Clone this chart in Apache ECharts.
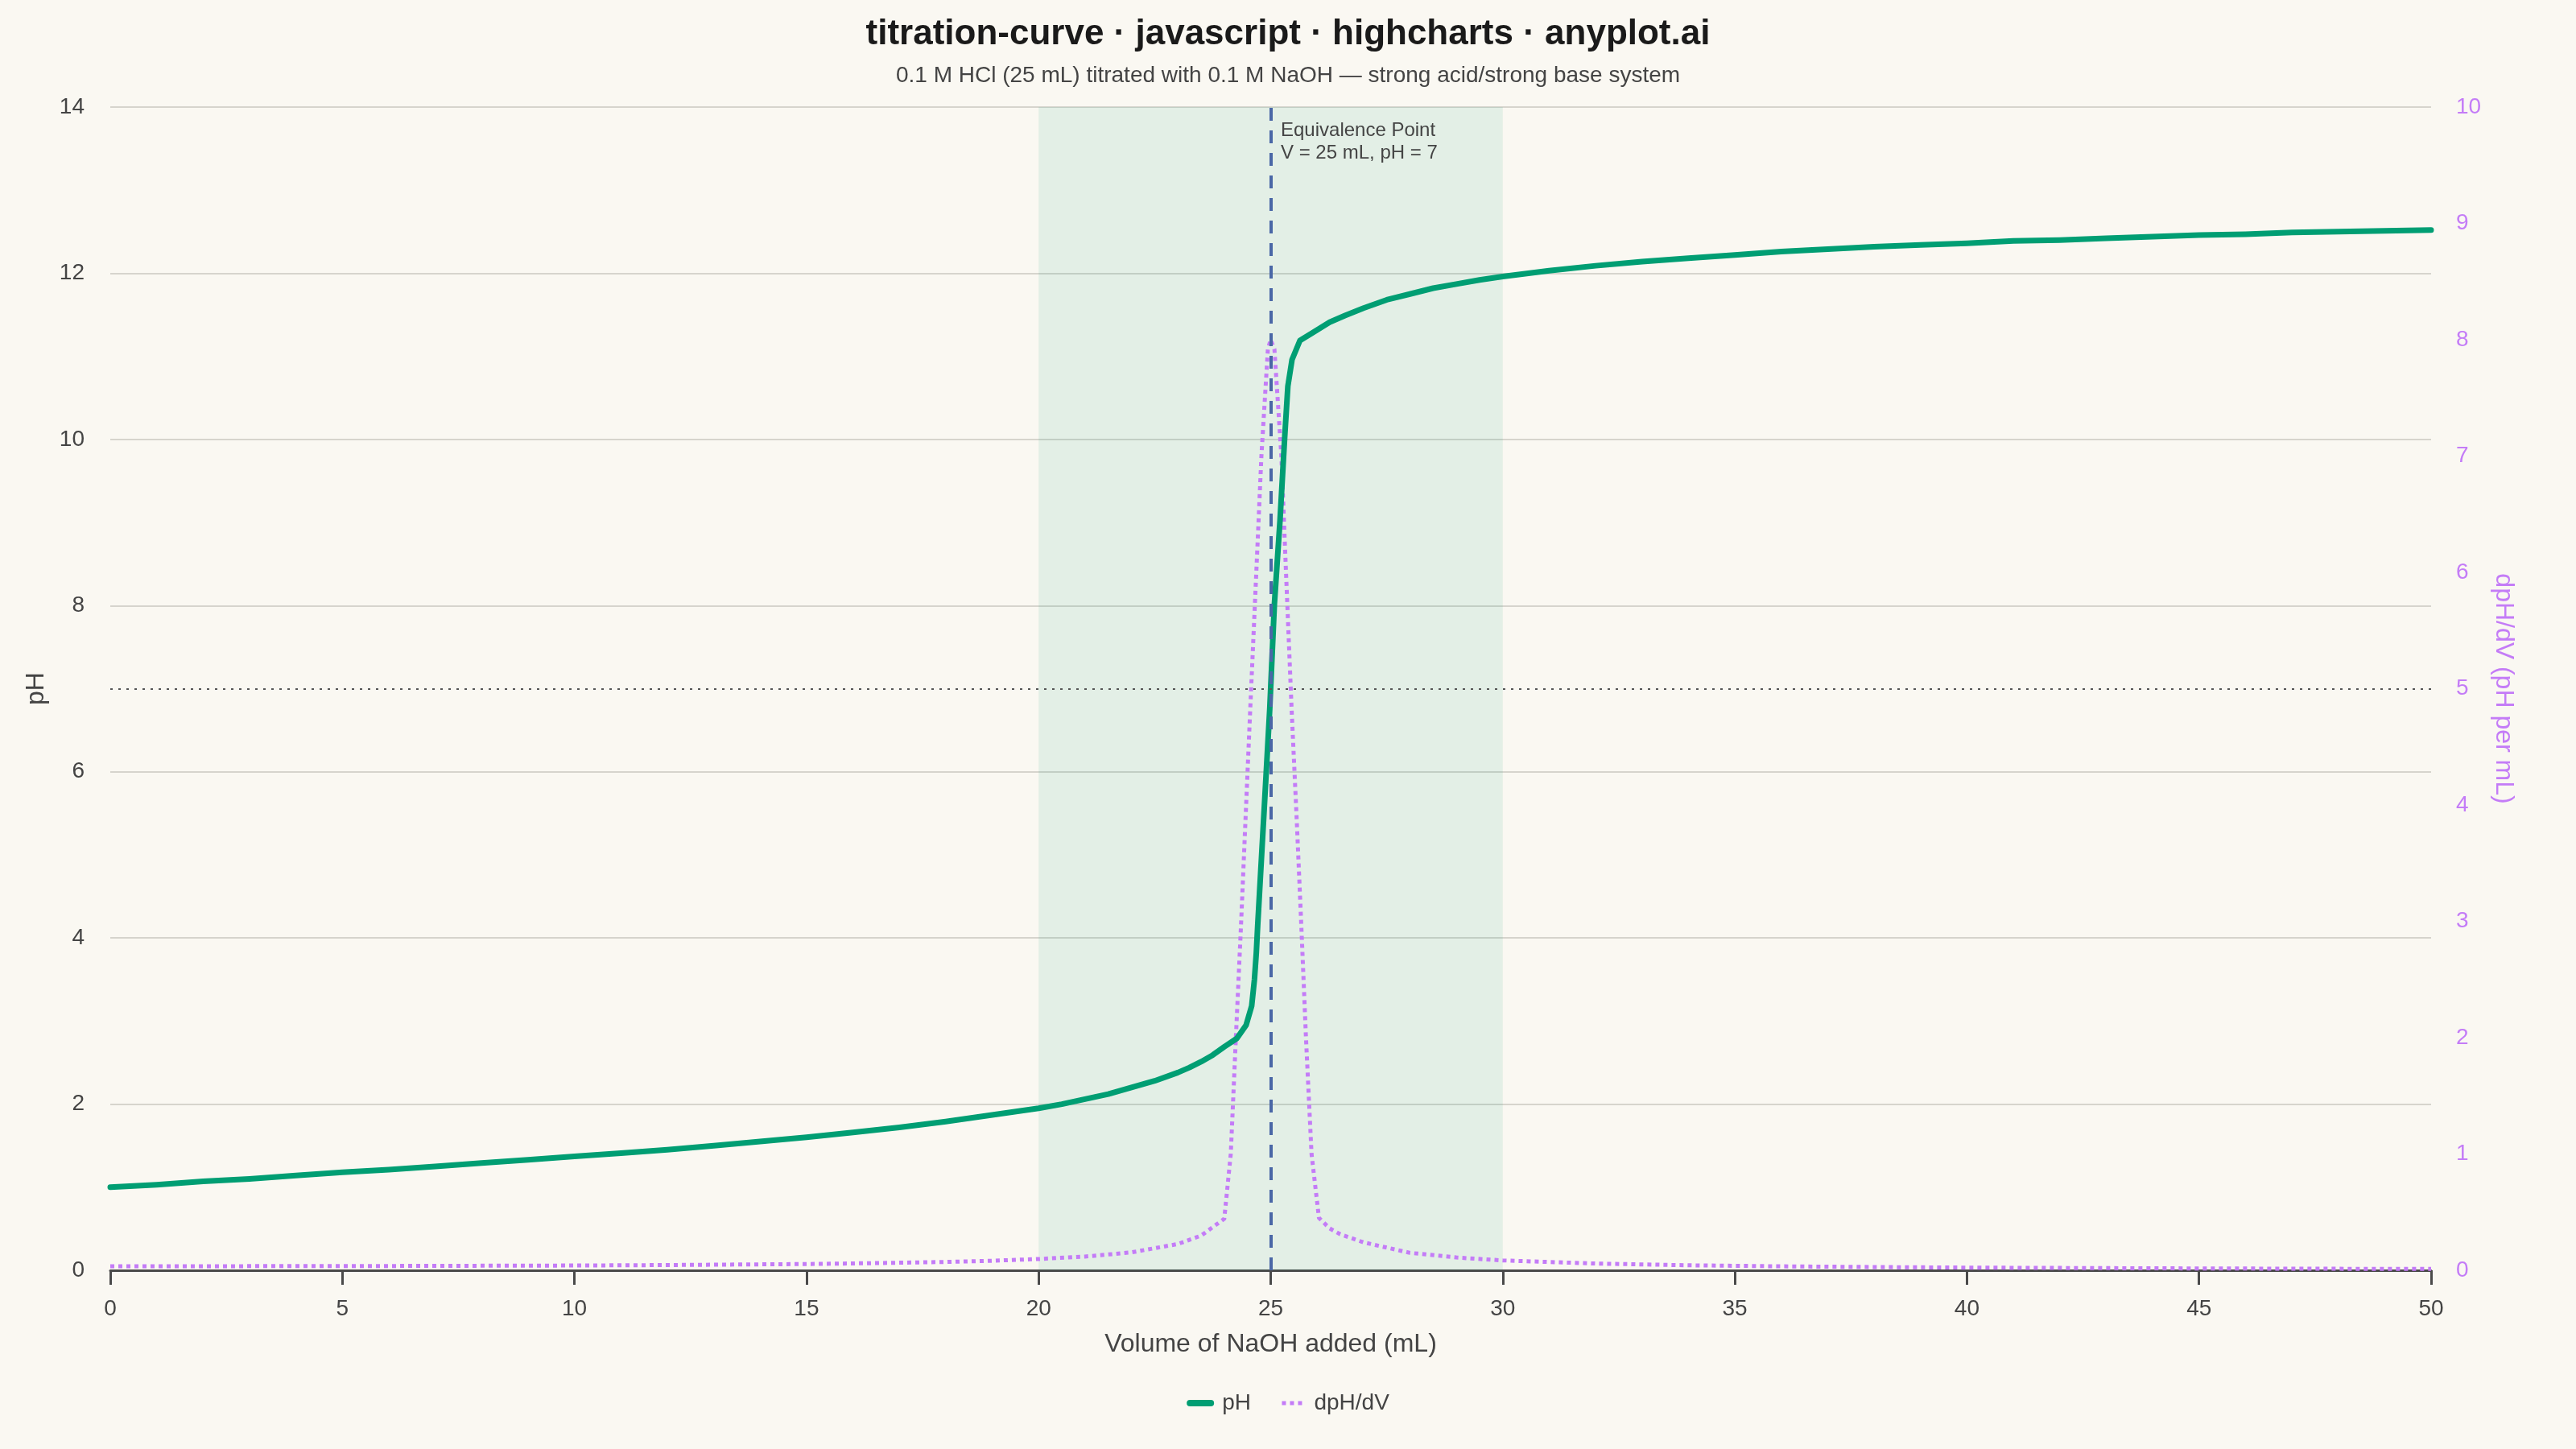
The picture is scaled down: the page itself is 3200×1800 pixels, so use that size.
<!DOCTYPE html>
<html>
<head>
<meta charset="utf-8">
<script src="https://cdn.jsdelivr.net/npm/echarts@6/dist/echarts.min.js"></script>
<style>
	html, body { margin: 0; padding: 0; background: #faf8f2; }
	#chartDiv { width: 3200px; height: 1800px; }
</style>
</head>
<body>
<div id="chartDiv"></div>
<script>
// pH curve
const phVolumes = [0, 1, 2, 3, 4, 5, 6, 7, 8, 9, 10, 11, 12, 13, 14, 15, 16, 17, 18, 19, 20, 20.5, 21, 21.5, 22, 22.5, 23, 23.25, 23.5, 23.75, 24,
	24.27, 24.47, 24.59, 24.65, 24.69, 24.72, 24.85, 24.98, 25.08, 25.2, 25.3, 25.37, 25.46, 25.63, 25.92, 26.27, 26.6,
	27, 27.5, 28, 28.5, 29, 29.5, 30, 31, 32, 33, 34, 35, 36, 37, 38, 39, 40, 41, 42, 43, 44, 45, 46, 47, 48, 49, 50];
const phValues = [1.00, 1.03, 1.07, 1.10, 1.14, 1.18, 1.21, 1.25, 1.29, 1.33, 1.37, 1.41, 1.45, 1.50, 1.55, 1.60, 1.66, 1.72, 1.79, 1.87, 1.95, 2.00, 2.06, 2.12, 2.20, 2.28, 2.38, 2.44, 2.51, 2.59, 2.69,
	2.79, 2.95, 3.18, 3.50, 3.82, 4.15, 5.45, 6.76, 8.02, 9.02, 10.01, 10.64, 10.96, 11.19, 11.29, 11.41, 11.49,
	11.58, 11.68, 11.75, 11.82, 11.87, 11.92, 11.96, 12.03, 12.09, 12.14, 12.18, 12.22, 12.26, 12.29, 12.32, 12.34, 12.36, 12.39, 12.40, 12.42, 12.44, 12.46, 12.47, 12.49, 12.50, 12.51, 12.52];

// first derivative dpH/dV
const dVolumes = [0, 2, 4, 6, 8, 10, 12, 14, 15, 16, 17, 18, 19, 20, 21, 22, 23, 23.5, 24,
	24.14, 24.25, 24.36, 24.46, 24.56, 24.69, 24.8, 24.94, 25, 25.08, 25.23, 25.33, 25.45, 25.56, 25.66, 25.76, 25.88, 26.04,
	26.27, 26.5, 27, 28, 29, 30, 32, 34, 36, 38, 40, 42, 44, 46, 48, 50];
const dValues = [0.035, 0.035, 0.036, 0.037, 0.039, 0.041, 0.045, 0.051, 0.054, 0.059, 0.065, 0.072, 0.082, 0.097, 0.118, 0.154, 0.226, 0.298, 0.443,
	1.0, 2.0, 2.96, 3.9, 4.83, 6.0, 7.0, 7.92, 8.0, 7.92, 7.0, 6.0, 4.83, 3.88, 2.96, 2.0, 1.0, 0.45,
	0.36, 0.31, 0.24, 0.15, 0.11, 0.085, 0.058, 0.043, 0.034, 0.028, 0.023, 0.02, 0.017, 0.015, 0.013, 0.012];

const xTicks = { min: 0, max: 50, interval: 5 };
const phTicks = { min: 0, max: 14, interval: 2 };
const dTicks = { min: 0, max: 10, interval: 1 };

const equivVolume = 25;
const equivPH = 7;
const bandRange = [20, 30];

const fontFam = '"Liberation Sans", Arial, sans-serif';
const green = '#009e73';
const purple = '#c47cf7';

chartInit = () => {
	let chart = echarts.init(document.getElementById('chartDiv'));
	let phData = phVolumes.map((v, i) => [v, phValues[i]]);
	let dData = dVolumes.map((v, i) => [v, dValues[i]]);

	let option = {
		animation: false,
		backgroundColor: '#faf8f2',
		textStyle: { fontFamily: fontFam },
		title: {
			text: 'titration-curve · javascript · highcharts · anyplot.ai',
			subtext: '0.1 M HCl (25 mL) titrated with 0.1 M NaOH — strong acid/strong base system',
			left: 'center',
			top: 16,
			itemGap: 15,
			textStyle: { fontSize: 44, fontWeight: 'bold', color: '#1a1a1a', fontFamily: fontFam },
			subtextStyle: { fontSize: 28, color: '#444', fontFamily: fontFam }
		},
		grid: {
			left: 137,
			right: 180,
			top: 133,
			bottom: 222
		},
		legend: {
			bottom: 38,
			left: 'center',
			itemWidth: 26,
			itemHeight: 14,
			itemGap: 36,
			itemStyle: { opacity: 0 },
			textStyle: { fontSize: 28, color: '#444', fontFamily: fontFam, padding: [0, 0, 0, 9] },
			data: [{
				name: 'pH',
				lineStyle: { width: 8, cap: 'round', color: green }
			}, {
				name: 'dpH/dV',
				lineStyle: { width: 5, type: [5, 5], color: purple }
			}]
		},
		xAxis: {
			type: 'value',
			min: xTicks.min,
			max: xTicks.max,
			interval: xTicks.interval,
			name: 'Volume of NaOH added (mL)',
			nameLocation: 'middle',
			nameGap: 76,
			nameTextStyle: { fontSize: 32, color: '#444', fontFamily: fontFam },
			axisLine: { show: true, lineStyle: { color: '#4a4a4a', width: 3 } },
			axisTick: { show: true, length: 18, lineStyle: { color: '#4a4a4a', width: 3 } },
			axisLabel: { fontSize: 28, color: '#444', margin: 34 },
			splitLine: { show: false }
		},
		yAxis: [{
			type: 'value',
			min: phTicks.min,
			max: phTicks.max,
			interval: phTicks.interval,
			name: 'pH',
			nameLocation: 'middle',
			nameGap: 76,
			nameRotate: 90,
			nameTextStyle: { fontSize: 32, color: '#444', fontFamily: fontFam },
			axisLine: { show: false },
			axisTick: { show: false },
			axisLabel: { fontSize: 28, color: '#444', margin: 32 },
			splitLine: { lineStyle: { color: '#d6d4cd', width: 2 } }
		}, {
			type: 'value',
			position: 'right',
			min: dTicks.min,
			max: dTicks.max,
			interval: dTicks.interval,
			name: 'dpH/dV (pH per mL)',
			nameLocation: 'middle',
			nameGap: 74,
			nameRotate: -90,
			nameTextStyle: { fontSize: 32, color: purple, fontFamily: fontFam },
			axisLine: { show: false },
			axisTick: { show: false },
			axisLabel: { fontSize: 28, color: purple, margin: 31 },
			splitLine: { show: false }
		}],
		series: [{
			name: 'pH',
			type: 'line',
			yAxisIndex: 0,
			symbol: 'none',
			smooth: false,
			z: 3,
			lineStyle: { color: green, width: 7, cap: 'round', join: 'round' },
			itemStyle: { color: green },
			data: phData,
			markArea: {
				silent: true,
				itemStyle: { color: 'rgba(0,158,115,0.09)' },
				data: [[{ xAxis: bandRange[0] }, { xAxis: bandRange[1] }]]
			},
			markLine: {
				silent: true,
				symbol: ['none', 'none'],
				label: { show: false },
				data: [{
					yAxis: equivPH,
					lineStyle: { color: '#555', width: 2, type: [3, 7] }
				}, {
					xAxis: equivVolume,
					lineStyle: { color: '#4a67a6', width: 4, type: [16, 12] }
				}]
			},
			markPoint: {
				silent: true,
				symbol: 'rect',
				symbolSize: 1,
				itemStyle: { color: 'rgba(0,0,0,0)' },
				label: {
					show: true,
					position: [13, 16],
					align: 'left',
					verticalAlign: 'top',
					fontSize: 24,
					lineHeight: 28,
					color: '#444',
					fontFamily: fontFam,
					formatter: 'Equivalence Point\nV = ' + equivVolume + ' mL, pH = ' + equivPH
				},
				data: [{ coord: [equivVolume, phTicks.max] }]
			}
		}, {
			name: 'dpH/dV',
			type: 'line',
			yAxisIndex: 1,
			symbol: 'none',
			smooth: false,
			z: 2,
			lineStyle: { color: purple, width: 5, type: [5, 5], join: 'round' },
			itemStyle: { color: purple },
			data: dData
		}]
	};
	chart.setOption(option);
}
chartInit();
</script>
</body>
</html>
